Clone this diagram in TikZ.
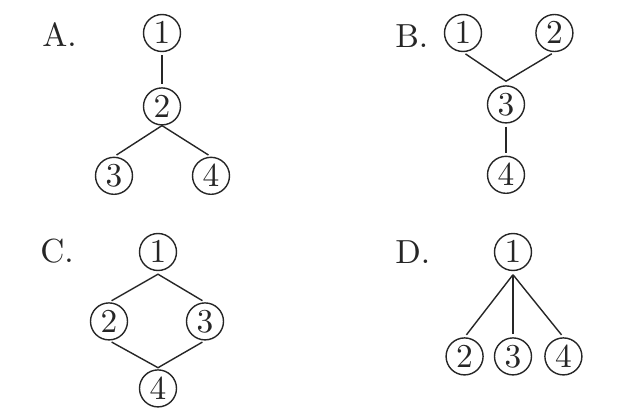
\documentclass[tikz,border=0pt]{standalone}
\usetikzlibrary{positioning}
\font\bignum=cmr10 at 19pt
\tikzset{
  num/.style={circle, draw=black!85, line width=0.8pt,
    minimum size=0.74cm, inner sep=0pt, text=black!85,
    font=\bignum},
  opt/.style={anchor=west, inner sep=0pt, text=black!85,
    font=\bignum},
  link/.style={draw=black!85, line width=0.8pt},
  gapboth/.style={shorten <=1.7pt, shorten >=1.7pt},
  gapend/.style={shorten >=1.7pt},
}
\begin{document}
\begin{tikzpicture}
\useasboundingbox (0,0) rectangle (12.66,-8.34);

% Option A
\node (optA) [opt] at (0.84,-0.70) {A.};
\node (A1) [num] at (3.24,-0.66) {1};
\node (A2) [num, below=0.70cm of A1] {2};
\node (A3) [num, below=0.62cm of A2, xshift=-0.96cm] {3};
\node (A4) [num, below=0.62cm of A2, xshift=0.98cm] {4};
\coordinate (Aj) at (A2.south);

\draw[link, gapboth] (A1) -- (A2);
\draw[link, gapboth] (A3.north) -- (Aj) -- (A4.north);

% Option B
\node (optB) [opt] at (7.90,-0.73) {B.};
\node (B1) [num] at (9.26,-0.66) {1};
\node (B2) [num, right=1.06cm of B1] {2};
\node (B3) [num, below=0.66cm of B1, xshift=0.86cm] {3};
\node (B4) [num, below=0.64cm of B3] {4};
\coordinate (Bj) at ([yshift=0.08cm]B3.north);

\draw[link, gapboth] (B1.south) -- (Bj) -- (B2.south);
\draw[link, gapboth] (B3) -- (B4);

% Option C
\node (optC) [opt] at (0.80,-5.03) {C.};
\node (C1) [num] at (3.16,-5.04) {1};
\node (C2) [num, below=0.62cm of C1, xshift=-0.98cm] {2};
\node (C3) [num, below=0.62cm of C1, xshift=0.94cm] {3};
\node (C4) [num, below=1.96cm of C1] {4};
\coordinate (Ct) at ([yshift=-0.06cm]C1.south);
\coordinate (Cb) at ([yshift=0.03cm]C4.north);

\draw[link, gapboth] (C2.north) -- (Ct) -- (C3.north);
\draw[link, gapboth] (C2.south) -- (Cb) -- (C3.south);

% Option D
\node (optD) [opt] at (7.90,-5.05) {D.};
\node (D1) [num] at (10.26,-5.04) {1};
\node (D3) [num, below=1.32cm of D1] {3};
\node (D2) [num, left=0.20cm of D3] {2};
\node (D4) [num, right=0.24cm of D3] {4};
\coordinate (Dj) at ([yshift=-0.07cm]D1.south);

\draw[link, gapend] (Dj) -- (D2.north);
\draw[link, gapend] (Dj) -- (D3.north);
\draw[link, gapend] (Dj) -- (D4.north);

\end{tikzpicture}
\end{document}
